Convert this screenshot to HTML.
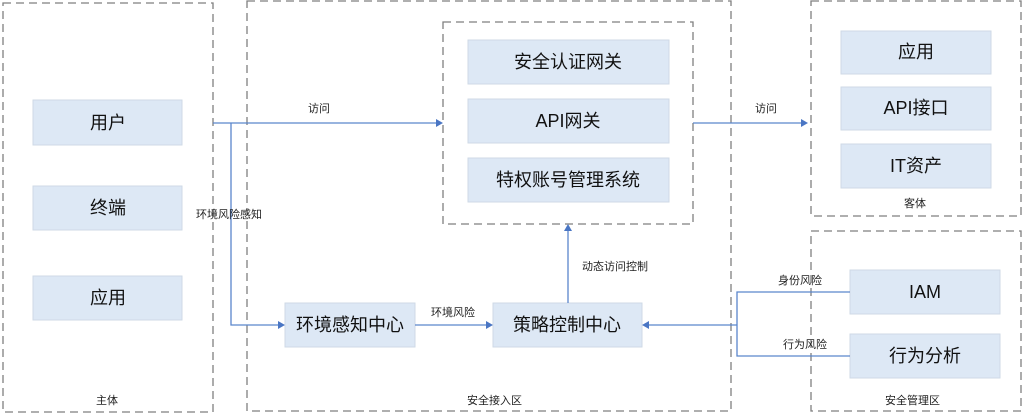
<!DOCTYPE html>
<html><head><meta charset="utf-8"><style>
body{margin:0;background:#fff;width:1024px;height:414px;overflow:hidden;font-family:"Liberation Sans","Noto Sans CJK SC",sans-serif}
svg{display:block}
.b{fill:#dde8f5;stroke:#cfd9e6;stroke-width:1}
.c{fill:none;stroke:#7f7f7f;stroke-width:1.3;stroke-dasharray:8,5}
.t{font-size:18px;fill:#111;text-anchor:middle;dominant-baseline:central}
.s{font-size:11px;fill:#222}
.l{stroke:#5b86cc;stroke-width:1.3;fill:none}
.a{fill:#4a76c4}
</style></head><body>
<svg width="1024" height="414" xmlns="http://www.w3.org/2000/svg">
<rect class="c" x="3" y="3" width="210" height="409"/>
<rect class="c" x="247" y="1" width="484" height="410"/>
<rect class="c" x="443" y="22" width="250" height="202"/>
<rect class="c" x="811" y="1" width="210" height="215"/>
<rect class="c" x="811" y="231" width="210" height="180"/>

<rect class="b" x="33" y="100" width="149" height="45"/><text class="t" x="108" y="123">用户</text>
<rect class="b" x="33" y="186" width="149" height="44"/><text class="t" x="108" y="208">终端</text>
<rect class="b" x="33" y="276" width="149" height="44"/><text class="t" x="108" y="298">应用</text>
<rect class="b" x="468" y="40" width="201" height="44"/><text class="t" x="568" y="62">安全认证网关</text>
<rect class="b" x="468" y="99" width="201" height="44"/><text class="t" x="568" y="121">API网关</text>
<rect class="b" x="468" y="158" width="201" height="44"/><text class="t" x="568" y="180">特权账号管理系统</text>
<rect class="b" x="285" y="303" width="130" height="44"/><text class="t" x="350" y="325">环境感知中心</text>
<rect class="b" x="493" y="303" width="149" height="44"/><text class="t" x="567" y="325">策略控制中心</text>
<rect class="b" x="841" y="31" width="150" height="43"/><text class="t" x="916" y="52">应用</text>
<rect class="b" x="841" y="87" width="150" height="43"/><text class="t" x="916" y="108">API接口</text>
<rect class="b" x="841" y="144" width="150" height="44"/><text class="t" x="916" y="166">IT资产</text>
<rect class="b" x="850" y="270" width="150" height="44"/><text class="t" x="925" y="292">IAM</text>
<rect class="b" x="850" y="334" width="150" height="44"/><text class="t" x="925" y="356">行为分析</text>

<path class="l" d="M213 123H437"/><path class="a" d="M443 123l-7 -4v8z"/>
<path class="l" d="M231 123V325H279"/><path class="a" d="M285 325l-7 -4v8z"/>
<path class="l" d="M415 325H487"/><path class="a" d="M493 325l-7 -4v8z"/>
<path class="l" d="M568 303V231"/><path class="a" d="M568 224l-4 7h8z"/>
<path class="l" d="M693 123H802"/><path class="a" d="M808 123l-7 -4v8z"/>
<path class="l" d="M850 292H737V356H850M737 325H648"/><path class="a" d="M642 325l7 -4v8z"/>

<text class="s" x="308" y="112">访问</text>
<text class="s" x="755" y="112">访问</text>
<text class="s" x="196" y="218">环境风险感知</text>
<text class="s" x="431" y="316">环境风险</text>
<text class="s" x="582" y="270">动态访问控制</text>
<text class="s" x="778" y="284">身份风险</text>
<text class="s" x="783" y="348">行为风险</text>
<text class="s" x="96" y="404">主体</text>
<text class="s" x="467" y="404">安全接入区</text>
<text class="s" x="904" y="207">客体</text>
<text class="s" x="885" y="404">安全管理区</text>
</svg>
</body></html>
